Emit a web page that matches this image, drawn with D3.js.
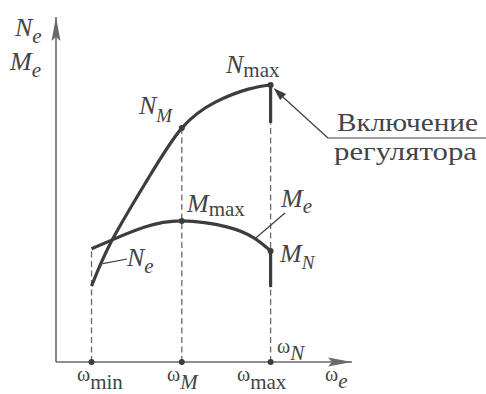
<!DOCTYPE html>
<html>
<head>
<meta charset="utf-8">
<script src="https://cdn.jsdelivr.net/npm/d3@7"></script>
<style>
  html, body { margin: 0; padding: 0; background: #fff; }
  svg { display: block; }
  text { font-family: "Liberation Serif", "DejaVu Serif", serif; fill: #444; }
</style>
</head>
<body>
<svg id="chart" width="486" height="394"></svg>
<script>
// Engine speed characteristic: effective power N_e and torque M_e versus crankshaft speed
const omegaKeys = ["min", "M", "max"];
const omegaVals = [12, 42.5, 72.5];

// Power curve N_e(ω)
const powerOmega = [12, 19, 31, 42.5, 54, 65, 72.5];
const powerVals  = [22, 35.4, 53, 67.8, 75.4, 79.1, 80.3];

// Torque curve M_e(ω)
const torqueOmega = [12, 19, 30, 42.5, 58, 67, 72.5];
const torqueVals  = [32.8, 35.4, 39.1, 40.9, 39.1, 35.9, 32.2];

// Governor branch at ω_max: values where the cut-off lines end
const governorPowerEnd = 69.3;
const governorTorqueEnd = 21.7;

const svg = d3.select("#chart");
const ink = "#3d3d3d", axisInk = "#6a6a6a";

const x = d3.scaleLinear().domain([0, 100]).range([56, 352]);
const y = d3.scaleLinear().domain([0, 100]).range([362, 17]);

const line = d3.line().x(d => x(d[0])).y(d => y(d[1])).curve(d3.curveNatural);
const power = d3.zip(powerOmega, powerVals);
const torque = d3.zip(torqueOmega, torqueVals);

// Axes with arrowheads
svg.append("path")
  .attr("d", d3.line()([[x(0), y(0)], [x(100), y(0)]]))
  .attr("stroke", axisInk).attr("stroke-width", 1.6).attr("fill", "none");
svg.append("path")
  .attr("d", d3.line()([[x(0), y(0)], [x(0), y(100)]]))
  .attr("stroke", axisInk).attr("stroke-width", 1.6).attr("fill", "none");
svg.append("path")
  .attr("d", `M${x(100)},${y(0)} l-24,-4.5 l4,4.5 l-4,4.5 Z`)
  .attr("fill", axisInk);
svg.append("path")
  .attr("d", `M${x(0)},${y(100)} l-4.5,24 l4.5,-4 l4.5,4 Z`)
  .attr("fill", axisInk);

// Dashed projections to the ω axis
const dashTops = [torqueVals[0], powerVals[3], powerVals[6]];
omegaVals.forEach((w, i) => {
  svg.append("line")
    .attr("x1", x(w)).attr("x2", x(w))
    .attr("y1", y(0)).attr("y2", y(dashTops[i]))
    .attr("stroke", axisInk).attr("stroke-width", 1.3)
    .attr("stroke-dasharray", "6,3.5");
});

// Curves
svg.append("path").attr("d", line(power))
  .attr("fill", "none").attr("stroke", ink).attr("stroke-width", 3.2);
svg.append("path").attr("d", line(torque))
  .attr("fill", "none").attr("stroke", ink).attr("stroke-width", 3.2);

// Governor cut-off segments
const wMax = omegaVals[2];
svg.append("line")
  .attr("x1", x(wMax)).attr("x2", x(wMax))
  .attr("y1", y(powerVals[6])).attr("y2", y(governorPowerEnd))
  .attr("stroke", ink).attr("stroke-width", 3.2);
svg.append("line")
  .attr("x1", x(wMax)).attr("x2", x(wMax))
  .attr("y1", y(torqueVals[6])).attr("y2", y(governorTorqueEnd))
  .attr("stroke", ink).attr("stroke-width", 3.2);

// Marked points
const dots = [
  [omegaVals[1], powerVals[3]], [omegaVals[2], powerVals[6]],
  [omegaVals[1], torqueVals[3]], [omegaVals[2], torqueVals[6]],
  [omegaVals[0], 0], [omegaVals[1], 0], [omegaVals[2], 0]
];
svg.selectAll("circle.pt").data(dots).join("circle")
  .attr("class", "pt")
  .attr("cx", d => x(d[0])).attr("cy", d => y(d[1]))
  .attr("r", 3).attr("fill", ink);

// Leader lines
const leader = (x1, y1, x2, y2) => svg.append("line")
  .attr("x1", x1).attr("y1", y1).attr("x2", x2).attr("y2", y2)
  .attr("stroke", ink).attr("stroke-width", 1.2);

// N_e leader (from the power curve)
leader(x(15.8), y(28.5), 127, 259);
// M_e leader (from the torque curve)
leader(x(67), y(35.6), 285, 213);
// Governor callout with arrow to N_max
const tipX = x(wMax) + 3, tipY = y(powerVals[6]) + 3;
leader(tipX + 6, tipY + 6, 328, 138);
svg.append("line").attr("x1", 328).attr("y1", 138).attr("x2", 486).attr("y2", 138)
  .attr("stroke", ink).attr("stroke-width", 1.2);
svg.append("path")
  .attr("d", `M${tipX},${tipY} l12.5,6 l-6,6 Z`)
  .attr("fill", ink);

// Label helper: main symbol + subscript
function label(xp, yp, main, sub, opts = {}) {
  const t = svg.append("text").attr("x", xp).attr("y", yp);
  t.append("tspan")
    .attr("font-size", opts.mainSize || 26)
    .attr("font-style", opts.mainItalic === false ? "normal" : "italic")
    .text(main);
  if (sub) {
    t.append("tspan")
      .attr("dy", opts.subDy || 7)
      .attr("dx", opts.subDx || 0)
      .attr("font-size", opts.subSize || 21)
      .attr("font-style", opts.subItalic ? "italic" : "normal")
      .text(sub);
  }
  return t;
}

// Axis titles
label(15, 36, "N", "e", { subItalic: true });
label(10, 70, "M", "e", { subItalic: true });

// Curve labels
label(139, 114, "N", "M", { subItalic: true, subSize: 19, subDy: 8 });
label(226, 73, "N", "max", { subDy: 4 });
label(187, 212, "M", "max", { subDy: 4 });
label(281, 207, "M", "e", { subItalic: true, subDy: 6 });
label(280, 262, "M", "N", { subItalic: true, subSize: 19, subDy: 7 });
label(127, 266, "N", "e", { subItalic: true, subDy: 7 });

// ω axis labels
const wOpts = { mainItalic: false, mainSize: 20, subDy: 8, subSize: 21 };
label(77, 381, "ω", "min", wOpts);
label(167, 381, "ω", "M", Object.assign({}, wOpts, { subItalic: true }));
label(237, 381, "ω", "max", wOpts);
label(325, 381, "ω", "e", Object.assign({}, wOpts, { subItalic: true, subDy: 7 }));
label(277, 353, "ω", "N", Object.assign({}, wOpts, { subItalic: true, subDy: 7 }));

// Governor callout text
svg.append("text").attr("x", 337).attr("y", 131)
  .attr("font-size", 25)
  .attr("textLength", 141).attr("lengthAdjust", "spacingAndGlyphs")
  .text("Включение");
svg.append("text").attr("x", 334).attr("y", 160)
  .attr("font-size", 25)
  .attr("textLength", 143).attr("lengthAdjust", "spacingAndGlyphs")
  .text("регулятора");
</script>
</body>
</html>
